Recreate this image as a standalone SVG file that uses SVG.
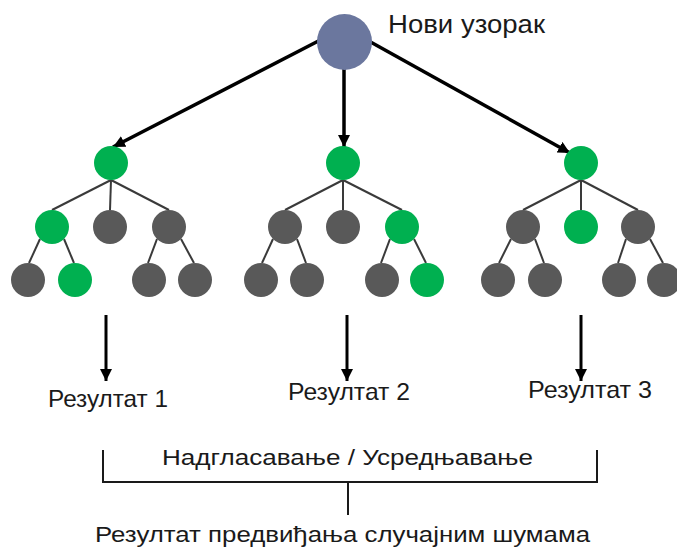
<svg xmlns="http://www.w3.org/2000/svg" width="677" height="548" viewBox="0 0 677 548">
<style>
.t{font-family:"Liberation Sans","DejaVu Sans",sans-serif;fill:#1a1a1a}
.e{stroke:#3a3a3a;stroke-width:2;fill:none}
.a{stroke:#000;stroke-width:3.5;fill:none}
.a2{stroke:#000;stroke-width:3;fill:none}
.b{stroke:#1a1a1a;stroke-width:2;fill:none}
.g{fill:#00b050}
.d{fill:#595959}
</style>
<defs>
<marker id="ah" markerUnits="userSpaceOnUse" viewBox="0 0 12 12" markerWidth="12" markerHeight="12" refX="12" refY="6" orient="auto">
<path d="M0,0 L12,6 L0,12 z" fill="#000"/>
</marker>
</defs>
<rect width="677" height="548" fill="#fff"/>
<g id="connectors">
<line class="a" x1="330" y1="35" x2="113" y2="147" marker-end="url(#ah)"/>
<line class="a" x1="344" y1="60" x2="344" y2="147" marker-end="url(#ah)"/>
<line class="a" x1="358" y1="35" x2="570" y2="153" marker-end="url(#ah)"/>
<line class="e" x1="111" y1="180" x2="52" y2="210"/>
<line class="e" x1="111" y1="180" x2="110" y2="210"/>
<line class="e" x1="111" y1="180" x2="169" y2="210"/>
<line class="e" x1="40" y1="239" x2="29" y2="263"/>
<line class="e" x1="64" y1="239" x2="74" y2="263"/>
<line class="e" x1="157" y1="239" x2="148" y2="263"/>
<line class="e" x1="181" y1="239" x2="194" y2="263"/>
<line class="e" x1="343" y1="180" x2="285" y2="210"/>
<line class="e" x1="343" y1="180" x2="343" y2="210"/>
<line class="e" x1="343" y1="180" x2="402" y2="210"/>
<line class="e" x1="273" y1="239" x2="262" y2="263"/>
<line class="e" x1="297" y1="239" x2="306" y2="263"/>
<line class="e" x1="390" y1="239" x2="381" y2="263"/>
<line class="e" x1="414" y1="239" x2="426" y2="263"/>
<line class="e" x1="581" y1="180" x2="523" y2="210"/>
<line class="e" x1="581" y1="180" x2="581" y2="210"/>
<line class="e" x1="581" y1="180" x2="638" y2="210"/>
<line class="e" x1="511" y1="239" x2="499" y2="263"/>
<line class="e" x1="535" y1="239" x2="544" y2="263"/>
<line class="e" x1="626" y1="239" x2="618" y2="263"/>
<line class="e" x1="650" y1="239" x2="663" y2="263"/>
<line class="a2" x1="106" y1="315" x2="106" y2="381" marker-end="url(#ah)"/>
<line class="a2" x1="347" y1="315" x2="347" y2="381" marker-end="url(#ah)"/>
<line class="a2" x1="581" y1="315" x2="581" y2="381" marker-end="url(#ah)"/>
<polyline class="b" points="103,450 103,482 597,482 597,450"/>
<line class="b" x1="348" y1="482" x2="348" y2="515"/>
</g>
<g id="root">
<ellipse cx="344.5" cy="42" rx="27.5" ry="28" fill="#6b779e"/>
<text class="t" x="388" y="33" font-size="25" textLength="157" lengthAdjust="spacingAndGlyphs">Нови узорак</text>
</g>
<g id="tree1">
<circle class="g" cx="111" cy="163" r="17"/>
<circle class="g" cx="52" cy="227" r="17"/>
<circle class="d" cx="110" cy="227" r="17"/>
<circle class="d" cx="169" cy="227" r="17"/>
<circle class="d" cx="28" cy="280" r="17"/>
<circle class="g" cx="75" cy="280" r="17"/>
<circle class="d" cx="149" cy="280" r="17"/>
<circle class="d" cx="195" cy="280" r="17"/>
</g>
<g id="tree2">
<circle class="g" cx="343" cy="163" r="17"/>
<circle class="d" cx="285" cy="227" r="17"/>
<circle class="d" cx="343" cy="227" r="17"/>
<circle class="g" cx="402" cy="227" r="17"/>
<circle class="d" cx="261" cy="280" r="17"/>
<circle class="d" cx="307" cy="280" r="17"/>
<circle class="d" cx="382" cy="280" r="17"/>
<circle class="g" cx="427" cy="280" r="17"/>
</g>
<g id="tree3">
<circle class="g" cx="581" cy="163" r="17"/>
<circle class="d" cx="523" cy="227" r="17"/>
<circle class="g" cx="581" cy="227" r="17"/>
<circle class="d" cx="638" cy="227" r="17"/>
<circle class="d" cx="498" cy="280" r="17"/>
<circle class="d" cx="545" cy="280" r="17"/>
<circle class="d" cx="619" cy="280" r="17"/>
<circle class="d" cx="664" cy="280" r="17"/>
</g>
<g id="result1"><text class="t" x="48" y="407" font-size="24" textLength="120" lengthAdjust="spacingAndGlyphs">Резултат 1</text></g>
<g id="result2"><text class="t" x="288" y="400" font-size="24" textLength="122" lengthAdjust="spacingAndGlyphs">Резултат 2</text></g>
<g id="result3"><text class="t" x="528" y="398" font-size="24" textLength="124" lengthAdjust="spacingAndGlyphs">Резултат 3</text></g>
<g id="aggregate"><text class="t" x="162" y="465" font-size="22" textLength="371" lengthAdjust="spacingAndGlyphs">Надгласавање / Усредњавање</text></g>
<g id="final"><text class="t" x="95" y="542" font-size="22" textLength="495" lengthAdjust="spacingAndGlyphs">Резултат предвиђања случајним шумама</text></g>
</svg>
